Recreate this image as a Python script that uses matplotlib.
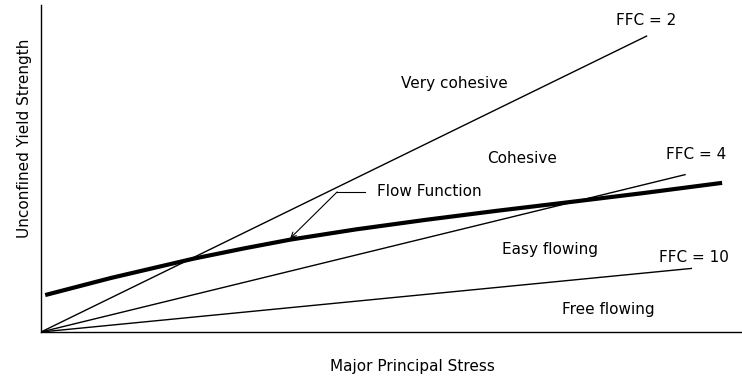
import matplotlib
matplotlib.use("Agg")
import matplotlib.pyplot as plt

# Flow factor lines: sigma_c = sigma_1 / FFC, drawn out to a given sigma_1
FFC_VALUES = [2, 4, 10]
FFC_END_X = [8.66, 9.21, 9.30]
FFC_LABELS = ["FFC = 2", "FFC = 4", "FFC = 10"]

# Flow function of the powder (major principal stress vs unconfined yield strength)
FLOW_X = [0.06, 1.0, 2.17, 2.9, 3.56, 4.5, 5.5, 6.5, 7.56, 8.6, 9.73]
FLOW_Y = [0.54, 0.79, 1.07, 1.222, 1.35, 1.50, 1.64, 1.77, 1.90, 2.03, 2.18]

# Flowability regions
REGION_LABELS = ["Very cohesive", "Cohesive", "Easy flowing", "Free flowing"]


def main():
    W, H = 742, 383
    fig = plt.figure(figsize=(W / 100, H / 100), dpi=100)
    ax = fig.add_axes([41 / W, (H - 332) / H, 700 / W, 327 / H])
    ax.set_xlim(0, 10)
    ax.set_ylim(0, 4.78)

    for ffc, x_end in zip(FFC_VALUES, FFC_END_X):
        ax.plot([0, x_end], [0, x_end / ffc], color="black", lw=1.0,
                solid_capstyle="butt")

    ax.plot(FLOW_X, FLOW_Y, color="black", lw=3.0, solid_capstyle="butt",
            solid_joinstyle="round")

    fs = 11
    label_pos = [(8.64, 4.547), (9.36, 2.588), (9.33, 1.096)]
    for text, (x, y) in zip(FFC_LABELS, label_pos):
        ax.text(x, y, text, ha="center", va="center", fontsize=fs)

    region_pos = [(5.9, 3.626), (6.87, 2.529), (7.27, 1.199), (8.11, 0.322)]
    for text, (x, y) in zip(REGION_LABELS, region_pos):
        ax.text(x, y, text, ha="center", va="center", fontsize=fs)

    # leader line + arrow pointing at the flow function
    ax.plot([4.63, 4.23], [2.047, 2.047], color="black", lw=0.8)
    ax.annotate("", xy=(FLOW_X[4], FLOW_Y[4] + 0.02), xytext=(4.23, 2.047),
                arrowprops=dict(arrowstyle="->", color="black", lw=0.8,
                                mutation_scale=9, shrinkA=0, shrinkB=0))
    ax.text(4.8, 2.047, "Flow Function", ha="left", va="center", fontsize=fs)

    for side in ["top", "right"]:
        ax.spines[side].set_visible(False)
    for side in ["left", "bottom"]:
        ax.spines[side].set_linewidth(1.0)
    ax.set_xticks([])
    ax.set_yticks([])

    fig.text(412 / W, 1 - 367 / H, "Major Principal Stress", ha="center",
             va="center", fontsize=fs)
    fig.text(25 / W, 1 - 138 / H, "Unconfined Yield Strength", ha="center",
             va="center", rotation=90, fontsize=fs)

    fig.savefig("out.png", dpi=100)
    plt.close(fig)


if __name__ == "__main__":
    main()
